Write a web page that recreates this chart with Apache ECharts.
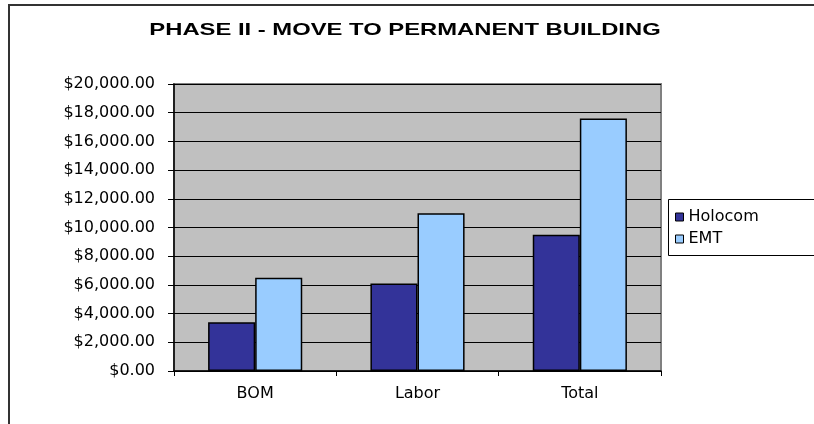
<!DOCTYPE html>
<html>
<head>
<meta charset="utf-8">
<script src="https://cdn.jsdelivr.net/npm/echarts@6/dist/echarts.min.js"></script>
<style>
  html, body { margin: 0; padding: 0; background: #fff; }
  #main { width: 814px; height: 424px; }
</style>
</head>
<body>
<div id="main"></div>
<script>
var categories = ["BOM", "Labor", "Total"];
var holocom = [3400, 6100, 9500];
var emt = [6500, 11000, 17600];
var seriesNames = ["Holocom", "EMT"];
var chartTitle = "PHASE II - MOVE TO PERMANENT BUILDING";

function money(v) {
    return "$" + v.toLocaleString("en-US", { minimumFractionDigits: 2, maximumFractionDigits: 2 });
}

var myChart = echarts.init(document.getElementById("main"));
var wide = "DejaVu Sans, sans-serif";
var option = {
    animation: false,
    backgroundColor: "#ffffff",
    // outer chart frame, legend box and the (wide) title
    graphic: [
        { type: "rect", shape: { x: 9, y: 5, width: 820, height: 430 },
          style: { fill: null, stroke: "#333", lineWidth: 2 }, z: -1 },
        { type: "rect", shape: { x: 668.5, y: 199.5, width: 160, height: 56 },
          style: { fill: "#fff", stroke: "#000", lineWidth: 1 }, z: 1 },
        { type: "text", x: 405, y: 30, scaleX: 1.4,
          style: { text: chartTitle, x: 0, y: 0, align: "center", verticalAlign: "middle",
                   font: "bold 17px Liberation Sans, Arial, sans-serif", fill: "#000" } }
    ],
    legend: {
        data: seriesNames,
        orient: "vertical",
        left: 670,
        top: 204,
        itemWidth: 8,
        itemHeight: 8,
        itemGap: 6,
        icon: "rect",
        itemStyle: { borderColor: "#000", borderWidth: 1 },
        textStyle: { fontFamily: wide, fontSize: 16, color: "#000" },
        z: 5
    },
    grid: {
        left: 174, right: 153, top: 84, bottom: 53,
        show: true, backgroundColor: "#c0c0c0",
        borderColor: "#808080", borderWidth: 2
    },
    xAxis: {
        type: "category",
        data: categories,
        axisLine: { lineStyle: { color: "#000", width: 1.5 } },
        axisTick: { show: true, length: 5, lineStyle: { color: "#000" } },
        axisLabel: { fontFamily: wide, fontSize: 16, color: "#000", margin: 15 }
    },
    yAxis: {
        type: "value",
        min: 0, max: 20000, interval: 2000,
        axisLine: { show: true, lineStyle: { color: "#000", width: 1.5 } },
        axisTick: { show: true, length: 6, lineStyle: { color: "#000" } },
        splitLine: { lineStyle: { color: "#000", width: 1 } },
        axisLabel: { fontFamily: wide, fontSize: 16, color: "#000", margin: 19, formatter: money }
    },
    series: [{
        name: seriesNames[0],
        type: "bar",
        data: holocom,
        barGap: "0%",
        barCategoryGap: "42%",
        itemStyle: { color: "#333399", borderColor: "#000", borderWidth: 1.5 }
    }, {
        name: seriesNames[1],
        type: "bar",
        data: emt,
        itemStyle: { color: "#99ccff", borderColor: "#000", borderWidth: 1.5 }
    }]
};
myChart.setOption(option);
</script>
</body>
</html>
